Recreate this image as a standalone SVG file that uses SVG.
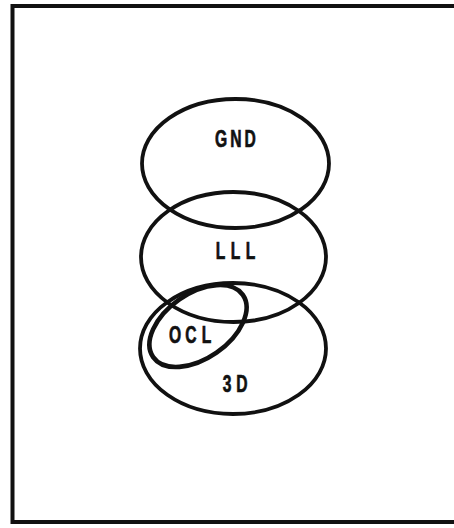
<svg xmlns="http://www.w3.org/2000/svg" width="454" height="528" viewBox="0 0 454 528">
<style>
.set{fill:none;stroke:#111;stroke-width:3.8}
.ocl{fill:none;stroke:#111;stroke-width:4.6}
.lbl{font-family:"Liberation Sans",Arial,sans-serif;font-weight:bold;font-size:23px;fill:#111;stroke:#111;stroke-width:0.7;text-anchor:middle}
.frame{fill:none;stroke:#111;stroke-width:4}
</style>
<rect width="454" height="528" fill="#fff"/>
<path class="frame" d="M460 6 H12.5 V522 H460"/>
<g id="gnd"><ellipse class="set" cx="235.5" cy="163.5" rx="93.5" ry="64.5"/><text class="lbl" transform="translate(236 146.5) scale(0.68 1)" x="-22 0 21" y="0">GND</text></g>
<g id="lll"><ellipse class="set" cx="233.5" cy="257" rx="92.5" ry="65"/><text class="lbl" transform="translate(235.5 258.5) scale(0.68 1)" x="-22 0 22" y="0">LLL</text></g>
<g id="d3"><ellipse class="set" cx="233" cy="348.5" rx="93" ry="65.5"/><text class="lbl" transform="translate(234.5 391.5) scale(0.68 1)" x="-11 11" y="0">3D</text></g>
<g id="ocl"><ellipse class="ocl" cx="198" cy="326" rx="54.6" ry="32.5" transform="rotate(-34.8 198 326)"/><text class="lbl" transform="translate(191 342.5) scale(0.68 1)" x="-23.5 0 23" y="0">OCL</text></g>
<g id="connectors"/>
</svg>
